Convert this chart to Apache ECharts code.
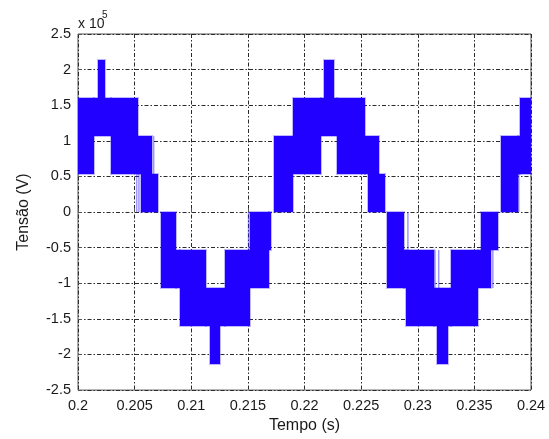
<!DOCTYPE html>
<html>
<head>
<meta charset="utf-8">
<script src="https://cdn.jsdelivr.net/npm/echarts@6/dist/echarts.min.js"></script>
<style>
  html, body { margin: 0; padding: 0; background: #fff; }
  #chart { width: 549px; height: 439px; }
</style>
</head>
<body>
<div id="chart"></div>
<script>
// tensão em unidades de 10^5 V, tempo em s
const xTicks = [0.2, 0.205, 0.21, 0.215, 0.22, 0.225, 0.23, 0.235, 0.24]
const xTickLabels = ['0.2', '0.205', '0.21', '0.215', '0.22', '0.225', '0.23', '0.235', '0.24']
const yTicks = [-2.5, -2, -1.5, -1, -0.5, 0, 0.5, 1, 1.5, 2, 2.5]
const yTickLabels = ['-2.5', '-2', '-1.5', '-1', '-0.5', '0', '0.5', '1', '1.5', '2', '2.5']

// blocos de chaveamento: [t inicio, t fim, nivel baixo, nivel alto]
const peak1 = [
  [0.2, 0.2014, 0.5333, 1.6],
  [0.2014, 0.20287, 1.0667, 1.6],
  [0.20287, 0.20534, 0.5333, 1.6],
  [0.20534, 0.20652, 0.5333, 1.0667],
  [0.20558, 0.20705, 0, 0.5333],
]
const trough1 = [
  [0.20729, 0.20867, -1.0667, 0],
  [0.20867, 0.20897, -1.0667, -0.5333],
  [0.20897, 0.21132, -1.6, -0.5333],
  [0.21132, 0.21294, -1.6, -1.0667],
  [0.21294, 0.21515, -1.6, -0.5333],
  [0.21515, 0.21686, -1.0667, 0],
  [0.21686, 0.21701, -0.5333, 0],
]
const peak2 = [
  [0.2173, 0.21898, 0, 1.0667],
  [0.21898, 0.22148, 0.5333, 1.6],
  [0.22148, 0.2229, 1.0667, 1.6],
  [0.2229, 0.22537, 0.5333, 1.6],
  [0.22537, 0.22657, 0.5333, 1.0667],
  [0.2256, 0.22708, 0, 0.5333],
]
const trough2 = [
  [0.22731, 0.22878, -1.0667, 0],
  [0.22878, 0.22899, -1.0667, -0.5333],
  [0.22899, 0.23143, -1.6, -0.5333],
  [0.23143, 0.23291, -1.6, -1.0667],
  [0.23291, 0.23532, -1.6, -0.5333],
  [0.23532, 0.2365, -1.0667, -0.5333],
  [0.23556, 0.23708, -0.5333, 0],
]
const peak3 = [
  [0.23732, 0.23883, 0, 1.0667],
  [0.23883, 0.239, 0.5333, 1.0667],
  [0.239, 0.24, 0.5333, 1.6],
]
const spikes = [
  [0.20175, 0.2024, 1.6, 2.1333],
  [0.21162, 0.21256, -2.1333, -1.6],
  [0.22171, 0.2226, 1.6, 2.1333],
  [0.2317, 0.23267, -2.1333, -1.6],
]
// pulsos isolados (linhas finas): [t, baixo, alto]
const thinLines = [
  [0.20518, 0, 0.5333],
  [0.20538, 0, 0.5333],
  [0.20668, 0.5333, 1.0667],
  [0.21506, -0.5333, 0],
  [0.2154, -0.5333, 0],
  [0.22913, -0.5333, 0],
  [0.23152, -1.0667, -0.5333],
  [0.23185, -1.0667, -0.5333],
  [0.23663, -1.0667, -0.5333],
  [0.2375, 0, 1.0667],
  [0.23768, 0, 1.0667],
  [0.23892, 0, 0.5333],
]

const BLUE = '#2200ff'
const GLOW = 'rgba(40, 20, 255, 0.3)'
const blocks = [...peak1, ...trough1, ...peak2, ...trough2, ...peak3, ...spikes]

const chart = echarts.init(document.getElementById('chart'), null, { renderer: 'canvas' })

// halo claro por baixo (anti-aliasing do original), bloco sólido por cima
// coordenadas arredondadas ao pixel para não aparecer costura entre blocos vizinhos
function blockRenderer(halo) {
  return (params, api) => {
    const p0 = api.coord([api.value(0), api.value(3)])
    const p1 = api.coord([api.value(1), api.value(2)])
    const pad = halo ? 1 : 0
    const x0 = Math.round(p0[0]) - pad
    const y0 = Math.round(p0[1]) - pad
    const x1 = Math.round(p1[0]) + pad
    const y1 = Math.round(p1[1]) + pad
    return {
      type: 'rect',
      shape: { x: x0, y: y0, width: x1 - x0, height: y1 - y0 },
      style: { fill: halo ? GLOW : BLUE },
    }
  }
}

function renderLine(params, api) {
  const p0 = api.coord([api.value(0), api.value(1)])
  const p1 = api.coord([api.value(0), api.value(2)])
  return {
    type: 'line',
    shape: { x1: p0[0], y1: p0[1], x2: p1[0], y2: p1[1] },
    style: { stroke: 'rgba(40, 20, 255, 0.45)', lineWidth: 1.5 },
  }
}

const labelFont = { color: '#1a1a1a', fontSize: 14.5, fontFamily: 'Liberation Sans, Arial, sans-serif' }
const gridLine = { color: '#2a2a2a', width: 1, type: [4, 2, 1.5, 2] }

chart.setOption({
  backgroundColor: '#fff',
  animation: false,
  grid: { left: 78, right: 18, top: 34, bottom: 47, show: true, borderColor: '#555', borderWidth: 1, backgroundColor: 'transparent' },
  xAxis: {
    type: 'value',
    min: 0.2,
    max: 0.24,
    interval: 0.005,
    name: 'Tempo (s)',
    nameLocation: 'middle',
    nameGap: 27,
    nameTextStyle: { ...labelFont, fontSize: 16 },
    axisLine: { show: false },
    axisTick: { show: true, inside: true, length: 4, lineStyle: { color: '#555' } },
    axisLabel: {
      ...labelFont,
      margin: 8,
      formatter: v => {
        const i = xTicks.findIndex(t => Math.abs(t - v) < 1e-6)
        return i >= 0 ? xTickLabels[i] : ''
      },
    },
    splitLine: { show: true, lineStyle: gridLine },
  },
  yAxis: {
    type: 'value',
    min: -2.5,
    max: 2.5,
    interval: 0.5,
    name: 'Tensão (V)',
    nameLocation: 'middle',
    nameGap: 46,
    nameTextStyle: { ...labelFont, fontSize: 16 },
    axisLine: { show: false },
    axisTick: { show: true, inside: true, length: 4, lineStyle: { color: '#555' } },
    axisLabel: {
      ...labelFont,
      margin: 7,
      formatter: v => {
        const i = yTicks.findIndex(t => Math.abs(t - v) < 1e-6)
        return i >= 0 ? yTickLabels[i] : ''
      },
    },
    splitLine: { show: true, lineStyle: gridLine },
  },
  graphic: [
    {
      type: 'text',
      left: 78,
      top: 17,
      style: { text: 'x 10', fill: '#1a1a1a', font: '14px "Liberation Sans", Arial, sans-serif' },
    },
    {
      type: 'text',
      left: 102,
      top: 10,
      style: { text: '5', fill: '#1a1a1a', font: '10px "Liberation Sans", Arial, sans-serif' },
    },
  ],
  series: [
    {
      type: 'custom',
      renderItem: blockRenderer(true),
      data: blocks,
      encode: { x: [0, 1], y: [2, 3] },
      clip: true,
      silent: true,
    },
    {
      type: 'custom',
      renderItem: renderLine,
      data: thinLines,
      encode: { x: 0, y: [1, 2] },
      clip: true,
      silent: true,
    },
    {
      type: 'custom',
      renderItem: blockRenderer(false),
      data: blocks,
      encode: { x: [0, 1], y: [2, 3] },
      clip: true,
      silent: true,
    },
  ],
})
</script>
</body>
</html>
